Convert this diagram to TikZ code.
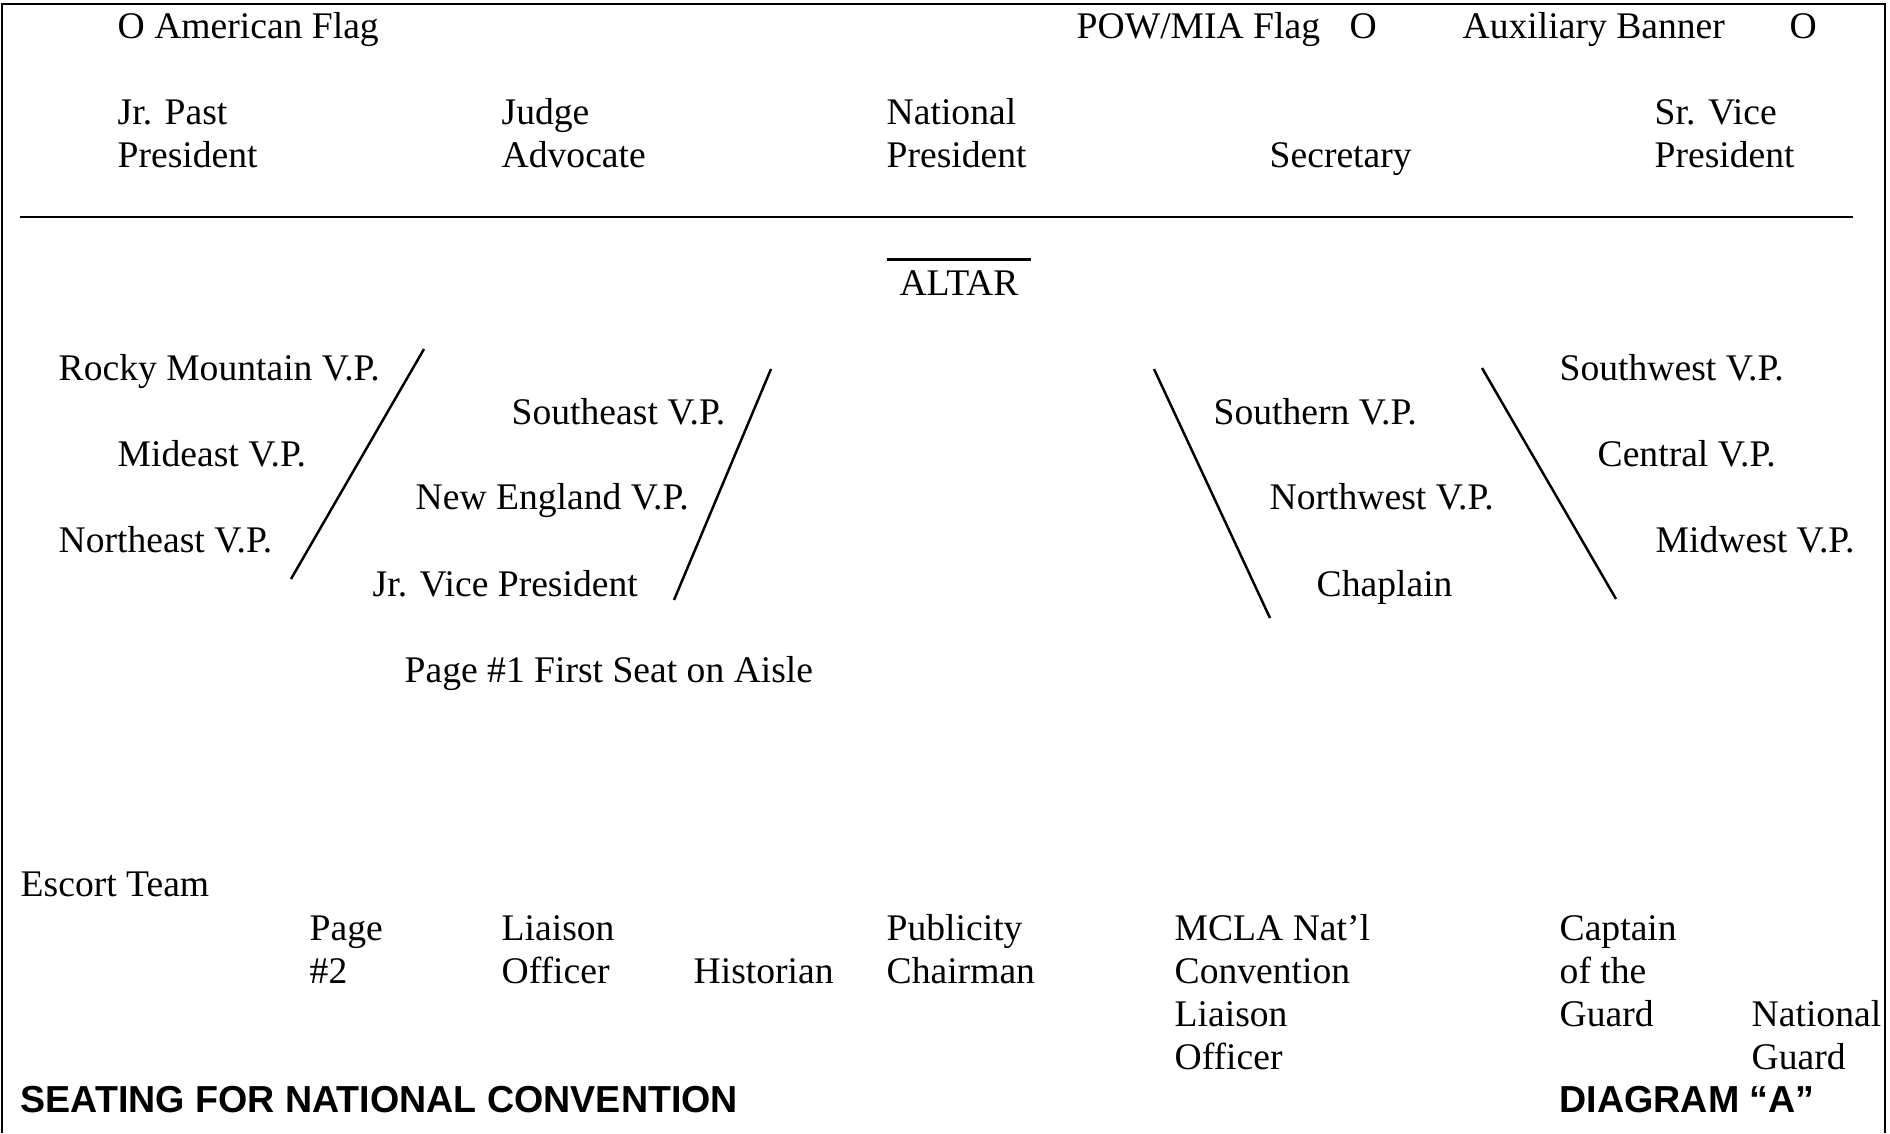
\documentclass[tikz,border=0pt]{standalone}
\usepackage{fontspec}
\setmainfont{Liberation Serif}
\setsansfont{Liberation Sans}

\begin{document}
\begin{tikzpicture}[
  seat/.style={anchor=base west, inner sep=0pt, align=left, font=\fontsize{10.7pt}{0.43cm}\selectfont},
  heading/.style={seat, font=\fontsize{10.7pt}{0.43cm}\selectfont\sffamily\bfseries},
  aisle/.style={line width=0.7pt}
]
\useasboundingbox (0,0) rectangle (18.9,11.33);
\draw[line width=0.6pt] (0.02,0) -- (0.02,11.29) -- (18.85,11.29) -- (18.85,0);

% flags and head table (multi-line nodes sit on their last line)
\node[seat] (usflag) at (1.17,10.95) {O American Flag};
\node[seat] (powflag) at (10.76,10.95) {POW/MIA Flag};
\node[seat] (powpos) at (13.49,10.95) {O};
\node[seat] (auxbanner) at (14.62,10.95) {Auxiliary Banner};
\node[seat] (auxpos) at (17.89,10.95) {O};

\node[seat] (jrpast) at (1.17,9.66) {Jr. Past\\President};
\node[seat] (judge) at (5.01,9.66) {Judge\\Advocate};
\node[seat] (natpres) at (8.86,9.66) {National\\President};
\node[seat] (secretary) at (12.69,9.66) {Secretary};
\node[seat] (srvice) at (16.54,9.66) {Sr. Vice\\President};

\draw[aisle] (0.20,9.16) -- (18.53,9.16);

\node[seat, anchor=base, inner xsep=0.12cm, inner ysep=0.1cm] (altar) at (9.59,8.38) {ALTAR};
\draw[aisle] (altar.north west) -- (altar.north east);

% left side
\node[seat] (rocky) at (0.58,7.53) {Rocky Mountain V.P.};
\node[seat] (mideast) at (1.17,6.67) {Mideast V.P.};
\node[seat] (northeast) at (0.58,5.81) {Northeast V.P.};
\draw[aisle] (4.24,7.84) -- (2.91,5.54);

\node[seat] (southeast) at (5.11,7.09) {Southeast V.P.};
\node[seat] (newengland) at (4.15,6.24) {New England V.P.};
\node[seat] (jrvice) at (3.72,5.37) {Jr. Vice President};
\draw[aisle] (7.71,7.64) -- (6.74,5.33);

\node[seat] (page1) at (4.04,4.51) {Page \#1 First Seat on Aisle};

% right side
\draw[aisle] (11.54,7.64) -- (12.70,5.15);
\node[seat] (southern) at (12.13,7.09) {Southern V.P.};
\node[seat] (northwest) at (12.69,6.24) {Northwest V.P.};
\node[seat] (chaplain) at (13.16,5.37) {Chaplain};

\draw[aisle] (14.82,7.65) -- (16.16,5.34);
\node[seat] (southwest) at (15.59,7.53) {Southwest V.P.};
\node[seat] (central) at (15.97,6.67) {Central V.P.};
\node[seat] (midwest) at (16.55,5.81) {Midwest V.P.};

% back row
\node[seat] (escort) at (0.20,2.37) {Escort Team};
\node[seat] (page2) at (3.09,1.50) {Page\\\#2};
\node[seat] (liaison) at (5.01,1.50) {Liaison\\Officer};
\node[seat] (historian) at (6.93,1.50) {Historian};
\node[seat] (publicity) at (8.86,1.50) {Publicity\\Chairman};
\node[seat] (mcla) at (11.74,0.64) {MCLA Nat’l\\Convention\\Liaison\\Officer};
\node[seat] (captain) at (15.59,1.07) {Captain\\of the\\Guard};
\node[seat] (natguard) at (17.51,0.64) {National\\Guard};

\node[heading] (title) at (0.20,0.21) {SEATING FOR NATIONAL CONVENTION};
\node[heading] (diagram) at (15.59,0.21) {DIAGRAM “A”};
\end{tikzpicture}
\end{document}
